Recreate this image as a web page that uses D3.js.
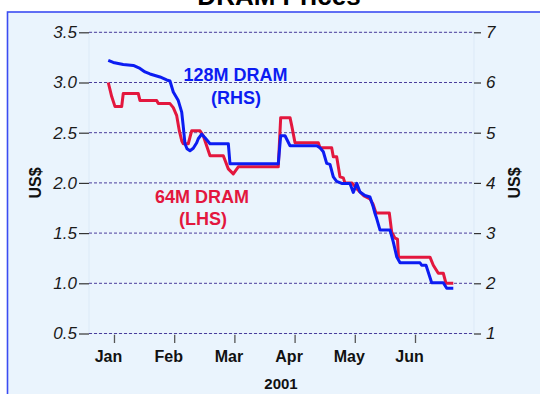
<!DOCTYPE html>
<html>
<head>
<meta charset="utf-8">
<script src="https://cdn.jsdelivr.net/npm/d3@7"></script>
<style>
  html, body { margin: 0; padding: 0; background: #ffffff; }
  svg { display: block; font-family: "Liberation Sans", Arial, sans-serif; }
</style>
</head>
<body>
<svg id="chart" width="540" height="394"></svg>
<script>
// x values are month positions in 2001 (0 = Jan tick, 1 = Feb tick, ...)
const monthLabels = ["Jan", "Feb", "Mar", "Apr", "May", "Jun"];
const monthTicks = [0, 1, 2, 3, 4, 5];
const leftTicks = [0.5, 1.0, 1.5, 2.0, 2.5, 3.0, 3.5];
const rightTicks = [1, 2, 3, 4, 5, 6, 7];

// 64M DRAM spot price, US$ (left axis)
const dram64Month = [-0.095, -0.038, 0.017, 0.128, 0.154, 0.404, 0.432, 0.709, 0.736, 0.930,
  0.985, 1.042, 1.085, 1.125, 1.151, 1.234, 1.291, 1.429, 1.483, 1.595,
  1.816, 1.899, 1.982, 2.065, 2.729, 2.769, 2.924, 2.952, 3.007, 3.394,
  3.422, 3.616, 3.643, 3.699, 3.754, 3.809, 3.837, 3.953, 4.020, 4.086,
  4.153, 4.252, 4.302, 4.352, 4.573, 4.613, 4.668, 4.709, 4.726, 5.249,
  5.304, 5.387, 5.470, 5.515, 5.636];
const dram64Price = [3.00, 2.86, 2.76, 2.76, 2.89, 2.89, 2.82, 2.82, 2.79, 2.79,
  2.75, 2.67, 2.52, 2.42, 2.39, 2.39, 2.52, 2.52, 2.47, 2.27,
  2.27, 2.14, 2.09, 2.16, 2.16, 2.65, 2.65, 2.57, 2.40, 2.40,
  2.35, 2.35, 2.26, 2.26, 2.06, 2.05, 2.00, 2.00, 1.95, 1.91,
  1.87, 1.84, 1.79, 1.70, 1.70, 1.51, 1.45, 1.44, 1.26, 1.26,
  1.18, 1.10, 1.10, 1.00, 1.00];

// 128M DRAM spot price, US$ (right axis)
const dram128Month = [-0.095, -0.012, 0.154, 0.321, 0.432, 0.515, 0.598, 0.764, 0.875, 0.930,
  0.985, 1.068, 1.125, 1.151, 1.179, 1.213, 1.262, 1.317, 1.374, 1.400,
  1.457, 1.512, 1.595, 1.899, 1.927, 2.729, 2.769, 2.841, 2.924, 3.367,
  3.422, 3.477, 3.533, 3.588, 3.643, 3.699, 3.782, 3.920, 3.975, 4.032,
  4.086, 4.169, 4.252, 4.307, 4.336, 4.364, 4.419, 4.585, 4.640, 4.696,
  4.751, 5.083, 5.111, 5.183, 5.277, 5.470, 5.527, 5.636];
const dram128Price = [6.44, 6.40, 6.36, 6.34, 6.28, 6.21, 6.17, 6.11, 6.05, 6.03,
  5.81, 5.64, 5.41, 5.12, 4.78, 4.68, 4.64, 4.69, 4.80, 4.88,
  4.97, 4.90, 4.78, 4.78, 4.38, 4.38, 4.94, 4.94, 4.74, 4.74,
  4.70, 4.62, 4.39, 4.37, 4.12, 4.03, 3.99, 3.99, 3.81, 3.99,
  3.82, 3.75, 3.72, 3.52, 3.39, 3.29, 3.06, 3.06, 2.82, 2.53,
  2.41, 2.41, 2.36, 2.36, 2.01, 2.01, 1.90, 1.90];

const svg = d3.select("#chart");

const plot = { left: 89, right: 474, top: 32.3, bottom: 333.5 };

const x = d3.scaleLinear().domain([-0.415, 5.98]).range([plot.left, plot.right]);
const yL = d3.scaleLinear().domain([0.5, 3.5]).range([plot.bottom, plot.top]);
const yR = d3.scaleLinear().domain([1, 7]).range([plot.bottom, plot.top]);

// panel background with blue frame (runs past the right and bottom edges)
svg.append("rect")
  .attr("x", 7.5).attr("y", 12)
  .attr("width", 560).attr("height", 400)
  .attr("fill", "#eaf4fd")
  .attr("stroke", "#3b4cf2")
  .attr("stroke-width", 1.6);

// faint plot area
svg.append("rect")
  .attr("x", plot.left).attr("y", plot.top)
  .attr("width", plot.right - plot.left).attr("height", plot.bottom - plot.top)
  .attr("fill", "none")
  .attr("stroke", "#dce9f7")
  .attr("stroke-width", 1);

// title
svg.append("text")
  .attr("x", 279).attr("y", 5)
  .attr("text-anchor", "middle")
  .attr("font-size", 26).attr("font-weight", "bold")
  .attr("fill", "#000")
  .text("DRAM Prices");

// dashed gridlines
svg.append("g")
  .selectAll("line")
  .data(leftTicks)
  .join("line")
  .attr("x1", plot.left).attr("x2", plot.right)
  .attr("y1", d => yL(d)).attr("y2", d => yL(d))
  .attr("stroke", "#4a3d9c")
  .attr("stroke-width", 1)
  .attr("stroke-dasharray", "3,2");

// left axis
const gL = svg.append("g")
  .attr("transform", `translate(${plot.left},0)`)
  .call(d3.axisLeft(yL).tickValues(leftTicks).tickSize(10).tickPadding(2).tickFormat(d3.format(".1f")));
gL.select(".domain").remove();
gL.selectAll(".tick line").attr("stroke", "#333").attr("stroke-width", 1.2);
gL.selectAll(".tick text")
  .attr("font-size", 17).attr("font-style", "italic")
  .attr("font-family", "Liberation Sans, Arial, sans-serif")
  .attr("fill", "#1a1a1a");

// right axis
const gR = svg.append("g")
  .attr("transform", `translate(${plot.right},0)`)
  .call(d3.axisRight(yR).tickValues(rightTicks).tickSize(7).tickPadding(5).tickFormat(d3.format("d")));
gR.select(".domain").remove();
gR.selectAll(".tick line").attr("stroke", "#333").attr("stroke-width", 1.2);
gR.selectAll(".tick text")
  .attr("font-size", 17).attr("font-style", "italic")
  .attr("font-family", "Liberation Sans, Arial, sans-serif")
  .attr("fill", "#1a1a1a");

// bottom axis
const gX = svg.append("g")
  .attr("transform", "translate(0,334.7)")
  .call(d3.axisBottom(x).tickValues(monthTicks).tickSize(8.3).tickFormat(i => monthLabels[i]));
gX.select(".domain").remove();
gX.selectAll(".tick line").attr("stroke", "#555").attr("stroke-width", 1.3);
gX.selectAll(".tick text")
  .attr("y", 27.5).attr("dy", 0).attr("dx", -6)
  .attr("font-size", 16).attr("font-weight", "bold")
  .attr("font-family", "Liberation Sans, Arial, sans-serif")
  .attr("fill", "#111");

svg.append("text")
  .attr("x", 281).attr("y", 388.5)
  .attr("text-anchor", "middle")
  .attr("font-size", 15).attr("font-weight", "bold")
  .attr("fill", "#111")
  .text("2001");

// axis unit titles
svg.append("text")
  .attr("transform", "translate(41,183) rotate(-90)")
  .attr("text-anchor", "middle")
  .attr("font-size", 16).attr("font-weight", "bold")
  .attr("fill", "#111")
  .text("US$");
svg.append("text")
  .attr("transform", "translate(520,183) rotate(-90)")
  .attr("text-anchor", "middle")
  .attr("font-size", 16).attr("font-weight", "bold")
  .attr("fill", "#111")
  .text("US$");

// price lines
const line64 = d3.line()
  .x(i => x(dram64Month[i]))
  .y(i => yL(dram64Price[i]));
const line128 = d3.line()
  .x(i => x(dram128Month[i]))
  .y(i => yR(dram128Price[i]));

svg.append("path")
  .attr("d", line64(d3.range(dram64Month.length)))
  .attr("fill", "none")
  .attr("stroke", "#e3173e")
  .attr("stroke-width", 3)
  .attr("stroke-linejoin", "round");

svg.append("path")
  .attr("d", line128(d3.range(dram128Month.length)))
  .attr("fill", "none")
  .attr("stroke", "#0c1cf2")
  .attr("stroke-width", 3)
  .attr("stroke-linejoin", "round");

// series labels
const blueLabel = svg.append("text")
  .attr("text-anchor", "middle")
  .attr("font-size", 18).attr("font-weight", "bold")
  .attr("fill", "#0c1cf2");
blueLabel.append("tspan").attr("x", 235.5).attr("y", 80.5).text("128M DRAM");
blueLabel.append("tspan").attr("x", 236).attr("y", 104).text("(RHS)");

const redLabel = svg.append("text")
  .attr("text-anchor", "middle")
  .attr("font-size", 18).attr("font-weight", "bold")
  .attr("fill", "#e3173e");
redLabel.append("tspan").attr("x", 202).attr("y", 203).text("64M DRAM");
redLabel.append("tspan").attr("x", 203).attr("y", 225).text("(LHS)");
</script>
</body>
</html>
